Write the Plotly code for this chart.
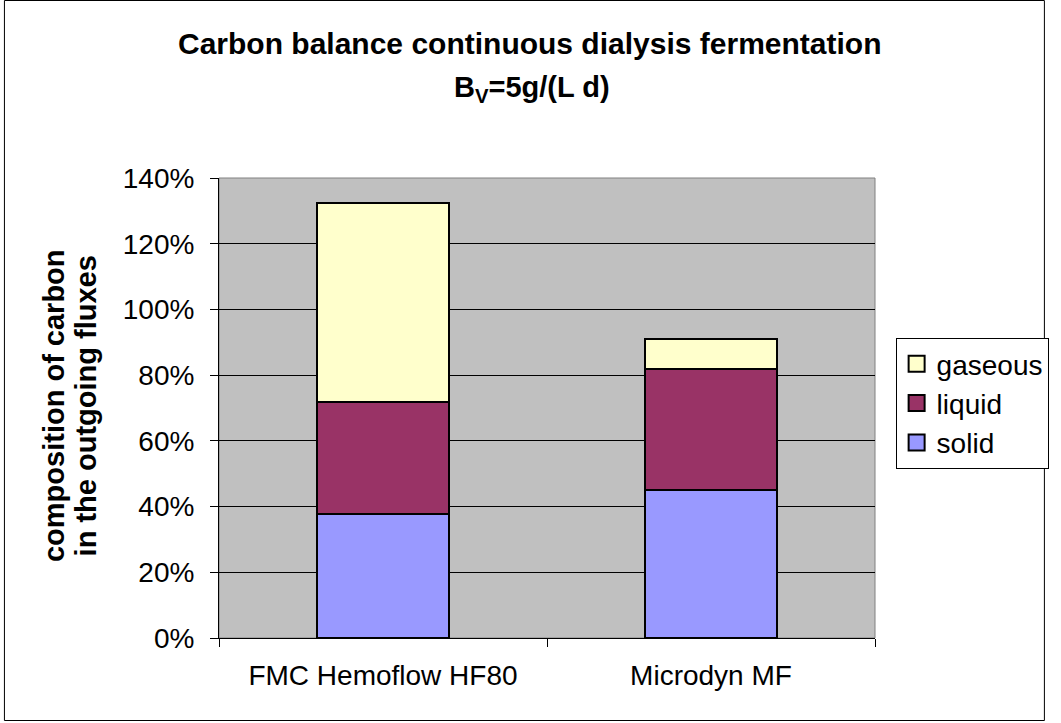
import plotly.graph_objects as go

categories = ["FMC Hemoflow HF80", "Microdyn MF"]
solid = [0.376, 0.449]
liquid = [0.342, 0.370]
gaseous = [0.606, 0.092]
series_names = ["solid", "liquid", "gaseous"]
series_colors = ["#9999FF", "#993366", "#FFFFCC"]

W, H = 1061, 723
L, R, T, B = 219, 174, 178, 85
PW, PH = W - L - R, H - T - B

font = "Liberation Sans, Arial, sans-serif"
line = dict(color="black", width=2)

fig = go.Figure()
for name, vals, col in zip(series_names, [solid, liquid, gaseous], series_colors):
    fig.add_trace(go.Bar(name=name, x=categories, y=vals, showlegend=False,
                         marker=dict(color=col, line=line)))
# legend proxies (larger square swatches)
for name, col in reversed(list(zip(series_names, series_colors))):
    fig.add_trace(go.Scatter(name=name, x=[None], y=[None], mode="markers",
                             marker=dict(symbol="square", size=16, color=col,
                                         line=dict(color="black", width=2))))

fig.update_layout(
    width=W, height=H,
    margin=dict(l=L, r=R, t=T, b=B),
    barmode="stack", bargap=0.6,
    paper_bgcolor="white", plot_bgcolor="#C0C0C0",
    font=dict(family=font, size=28, color="black"),
    legend=dict(x=(908 - L) / PW, y=(638 - 338) / PH, xanchor="left", yanchor="top",
                traceorder="normal", bordercolor="black", borderwidth=1, bgcolor="white",
                font=dict(size=28, family=font), itemwidth=30, tracegroupgap=0,
                itemsizing="trace"),
    showlegend=True,
)
fig.update_xaxes(showline=True, linecolor="black", linewidth=1, ticks="outside", tickson="boundaries",
                 ticklen=8, tickcolor="black", showgrid=False, tickfont=dict(size=28),
                 range=[-0.5, 1.5], ticklabelstandoff=12)
fig.update_yaxes(range=[0, 1.4], dtick=0.2, tickformat=".0%", showline=True, linecolor="black", linewidth=1,
                 ticks="outside", ticklen=8, tickcolor="black", showgrid=True, gridcolor="black", gridwidth=1,
                 tickfont=dict(size=28), zeroline=False, ticklabelstandoff=10)

# title (two lines)
fig.add_annotation(text="<b>Carbon balance continuous dialysis fermentation</b>",
                   xref="paper", yref="paper", x=(535 - L) / PW, y=(638 - 43) / PH,
                   xanchor="center", yanchor="middle", showarrow=False, font=dict(size=30, family=font))
fig.add_annotation(text="<b>B<sub>V</sub>=5g/(L d)</b>",
                   xref="paper", yref="paper", x=(538 - L) / PW, y=(638 - 89) / PH,
                   xanchor="center", yanchor="middle", showarrow=False, font=dict(size=29, family=font))

# y-axis title (two lines)
fig.add_annotation(text="<b>composition of carbon</b>", textangle=-90,
                   xref="paper", yref="paper", x=(51 - L) / PW, y=(638 - 406) / PH,
                   xanchor="center", yanchor="middle", showarrow=False, font=dict(size=29, family=font))
fig.add_annotation(text="<b>in the outgoing fluxes</b>", textangle=-90,
                   xref="paper", yref="paper", x=(84 - L) / PW, y=(638 - 406) / PH,
                   xanchor="center", yanchor="middle", showarrow=False, font=dict(size=29, family=font))

# plot area border
fig.add_shape(type="rect", xref="paper", yref="paper", x0=0, x1=1, y0=0, y1=1,
              line=dict(color="#808080", width=1), layer="below")
# outer chart border
fig.add_shape(type="rect", xref="paper", yref="paper",
              x0=(0.5 - L) / PW, x1=(1059.5 - L) / PW, y0=(638 - 720.5) / PH, y1=(638 - 0.5) / PH,
              line=dict(color="black", width=1))

fig.write_html("out.html", config={"displayModeBar": False},
               post_script="document.body.style.margin='0px';document.body.style.overflow='hidden';")
